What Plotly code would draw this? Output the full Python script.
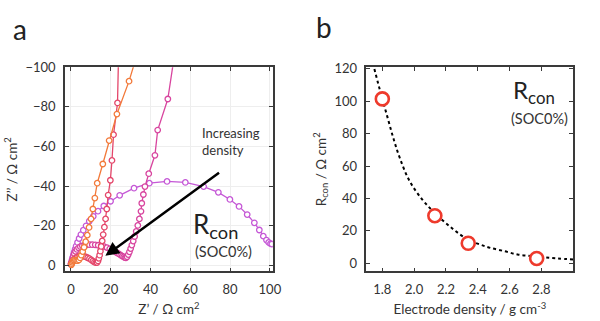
import plotly.graph_objects as go

# ---------------- Panel a: Nyquist plots ----------------
orange_x = [0.2, 0.4, 0.7, 1.1, 1.6, 2.2, 2.8, 3.4, 4.0, 4.6, 5.2, 5.9, 6.6, 7.4, 8.2, 9.1, 10.1, 11.0, 12.0, 13.2, 16.0, 19.2, 23.1, 29.2, 32.5]
orange_y = [-0.3, -0.9, -1.6, -2.2, -2.6, -2.7, -2.5, -2.4, -2.8, -3.8, -5.2, -7.0, -9.2, -12.0, -15.3, -19.2, -23.5, -28.5, -34.0, -41.5, -51.2, -63.0, -76.4, -93.0, -104.0]

red_x = [0.0, 0.4, 0.9, 1.5, 2.2, 3.0, 3.9, 4.8, 5.7, 6.6, 7.5, 8.4, 9.3, 10.2, 11.0, 11.8, 12.5, 13.1,
         13.6, 14.0, 14.4, 14.8, 15.2, 15.7, 16.2, 16.8, 17.4, 18.0, 18.7, 19.8, 20.6, 21.4, 23.4, 24.0]
red_y = [-0.8, -1.6, -2.4, -3.1, -3.7, -4.2, -4.5, -4.7, -4.7, -4.6, -4.3, -3.9, -3.4, -2.8, -2.2, -1.7, -1.4, -1.5,
         -2.3, -3.6, -5.2, -7.2, -9.6, -12.4, -15.6, -19.3, -23.5, -28.5, -35.5, -43.0, -53.0, -66.0, -82.0, -110.0]

magenta_x = [0.5, 0.8, 1.2, 1.7, 2.3, 3.0, 3.8, 4.7, 5.7, 6.8, 8.0, 9.3, 10.7, 12.2, 13.7, 15.2, 16.7, 18.1, 19.5, 20.8,
             22.0, 23.1, 24.1, 25.0, 25.8, 26.5, 27.1, 27.6,
             28.2, 28.8, 29.4, 30.0, 30.6, 31.3, 32.0, 32.8, 33.6, 34.4, 35.2, 35.6, 36.4, 37.2, 39.1, 42.2, 43.6, 48.7, 52.0]
magenta_y = [-1.5, -3.0, -4.5, -5.9, -7.1, -8.1, -8.9, -9.5, -9.9, -10.2, -10.4, -10.5, -10.5, -10.4, -10.2, -9.9, -9.5, -9.0, -8.4, -7.8,
             -7.1, -6.4, -5.8, -5.2, -4.7, -4.3, -4.0, -3.9,
             -4.4, -5.5, -6.9, -8.5, -10.3, -12.3, -14.6, -17.2, -20.2, -23.5, -27.3, -31.4, -35.8, -39.8, -46.3, -55.6, -68.3, -84.0, -106.0]

purple_x = [0.0, 0.2, 0.5, 0.8, 1.2, 1.6, 2.1, 2.6, 3.3, 4.1, 5.0, 6.2, 7.6, 9.2, 11.2, 13.6, 16.5, 19.9, 24.5, 31.7,
            39.4, 48.3, 57.5, 66.7, 74.1, 79.9, 84.5, 88.6, 92.2, 94.7, 96.7, 98.3, 99.4, 100.3, 101.0]
purple_y = [-0.5, -1.5, -2.7, -4.0, -5.3, -6.7, -8.2, -9.8, -11.6, -13.6, -15.6, -17.8, -20.0, -22.3, -24.8, -27.4, -30.0, -32.4, -35.4, -39.0,
            -41.5, -42.4, -41.9, -39.8, -36.9, -33.3, -29.8, -25.7, -21.5, -17.9, -14.8, -12.8, -11.6, -11.0, -10.8]

a_x_ticks = [0, 20, 40, 60, 80, 100]
a_y_ticks = [0, -20, -40, -60, -80, -100]

# ---------------- Panel b: Rcon vs density ----------------
density = [1.80, 2.13, 2.34, 2.77]
rcon = [101.5, 29.4, 12.4, 3.0]

fit_x = [1.75, 1.79, 1.83, 1.87, 1.91, 1.97, 2.05, 2.13, 2.24, 2.34, 2.42, 2.48, 2.57, 2.65, 2.73, 2.81, 2.90, 3.00]
fit_y = [120.0, 105.0, 91.0, 77.0, 65.0, 51.0, 39.5, 31.0, 21.5, 14.5, 11.4, 9.5, 7.4, 5.4, 4.5, 3.8, 3.0, 2.4]

b_x_ticks = [1.8, 2.0, 2.2, 2.4, 2.6, 2.8]
b_y_ticks = [0, 20, 40, 60, 80, 100, 120]

FONT = "Lato"
TXT = "#333333"
W, H = 600, 321

fig = go.Figure()

series = [
    (purple_x, purple_y, "#C558D6"),
    (magenta_x, magenta_y, "#D8459F"),
    (red_x, red_y, "#E4466A"),
    (orange_x, orange_y, "#F27A3B"),
]
for xs, ys, col in series:
    fig.add_trace(go.Scatter(
        x=xs, y=ys, mode="lines+markers", xaxis="x", yaxis="y",
        line=dict(color=col, width=1.3),
        marker=dict(symbol="circle", size=5.5, color="white", line=dict(color=col, width=1.3)),
        showlegend=False, cliponaxis=True))

fig.add_trace(go.Scatter(
    x=fit_x, y=fit_y, mode="lines", xaxis="x2", yaxis="y2",
    line=dict(color="black", width=2, dash="dot", shape="spline"), showlegend=False))
fig.add_trace(go.Scatter(
    x=density, y=rcon, mode="markers", xaxis="x2", yaxis="y2",
    marker=dict(symbol="circle", size=13, color="white", line=dict(color="#EE3A2C", width=2.6)),
    showlegend=False))

axis_common = dict(
    showline=True, linecolor="#3a3a3a", linewidth=1.6, mirror="ticks",
    ticks="inside", ticklen=4, tickwidth=1, tickcolor="#3a3a3a", ticklabelstandoff=5,
    tickfont=dict(family=FONT, size=13, color=TXT), zeroline=False,
)

def title(text, standoff):
    return dict(text=text, font=dict(family=FONT, size=13.5, color=TXT), standoff=standoff)

fig.update_layout(
    width=W, height=H, margin=dict(l=0, r=0, t=0, b=0),
    paper_bgcolor="white", plot_bgcolor="white",
    font=dict(family=FONT, color=TXT),
    xaxis=dict(domain=[66 / W, 277 / W], range=[-3, 101.5], tickvals=a_x_ticks,
               showgrid=True, gridcolor="#eeeeee", gridwidth=1,
               title=title("Z’ / Ω cm<sup>2</sup>", 9), anchor="y", **axis_common),
    yaxis=dict(domain=[1 - 271 / H, 1 - 61 / H], range=[3, -100], tickvals=a_y_ticks,
               showgrid=True, gridcolor="#eeeeee", gridwidth=1,
               title=title("Z’’ / Ω cm<sup>2</sup>", 5), anchor="x", **axis_common),
    xaxis2=dict(domain=[372 / W, 582 / W], range=[1.7, 3.0], tickvals=b_x_ticks, tickformat=".1f",
                showgrid=False, title=title("Electrode density / g cm<sup>-3</sup>", 9),
                anchor="y2", **axis_common),
    yaxis2=dict(domain=[1 - 271 / H, 1 - 61 / H], range=[-5, 121], tickvals=b_y_ticks,
                showgrid=False, title=title("R<sub>con</sub> / Ω cm<sup>2</sup>", 5),
                anchor="x2", **axis_common),
)

def px(xp, yp):
    return xp / W, 1 - yp / H

annots = []
# panel letters
for letter, (xp, yp) in [("a", (20, 22)), ("b", (329, 20))]:
    X, Y = px(xp, yp)
    annots.append(dict(text=letter, x=X, y=Y, xref="paper", yref="paper", showarrow=False,
                       xanchor="center", yanchor="middle", font=dict(family=FONT, size=28, color="#222")))
# arrow in panel a
annots.append(dict(x=17.3, y=-4.9, ax=75.2, ay=-47.3, xref="x", yref="y", axref="x", ayref="y",
                   showarrow=True, arrowhead=2, arrowsize=1.1, arrowwidth=2.5, arrowcolor="black", text=""))
X, Y = px(203, 137)
annots.append(dict(text="Increasing<br>density", x=X, y=Y, xref="paper", yref="paper", showarrow=False,
                   xanchor="left", yanchor="middle", align="left", font=dict(family=FONT, size=13, color=TXT)))
X, Y = px(194, 224)
annots.append(dict(text="R<sub>con</sub>", x=X, y=Y, xref="paper", yref="paper", showarrow=False,
                   xanchor="left", yanchor="middle", font=dict(family=FONT, size=26, color="#222")))
X, Y = px(196, 251)
annots.append(dict(text="(SOC0%)", x=X, y=Y, xref="paper", yref="paper", showarrow=False,
                   xanchor="left", yanchor="middle", font=dict(family=FONT, size=14.5, color=TXT)))
X, Y = px(519, 86)
annots.append(dict(text="R<sub>con</sub>", x=X, y=Y, xref="paper", yref="paper", showarrow=False,
                   xanchor="left", yanchor="middle", font=dict(family=FONT, size=24, color="#222")))
X, Y = px(517, 114)
annots.append(dict(text="(SOC0%)", x=X, y=Y, xref="paper", yref="paper", showarrow=False,
                   xanchor="left", yanchor="middle", font=dict(family=FONT, size=14.5, color=TXT)))
fig.update_layout(annotations=annots)

fig.write_html("out.html")
